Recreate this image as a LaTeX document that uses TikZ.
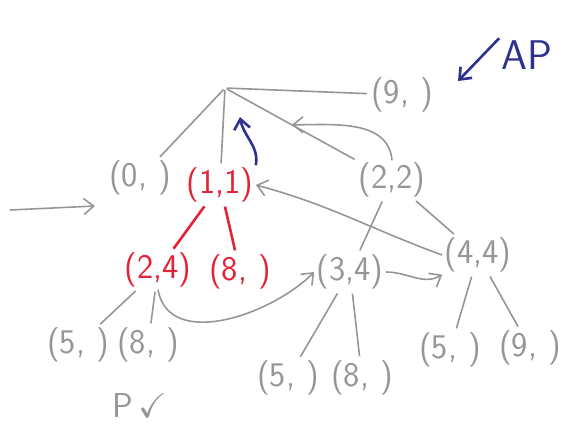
\documentclass[tikz,border=0pt]{standalone}
\usepackage{amssymb}
\usepackage{tikz}
\usetikzlibrary{calc,positioning,arrows.meta}
\definecolor{Pencil}{RGB}{150,150,150}
\definecolor{Marker}{RGB}{225,35,55}
\definecolor{Ink}{RGB}{45,50,140}
\tikzset{
 bt edge/.style={Pencil,line width=.8pt,shorten <=1pt,shorten >=1pt},
 bt path/.style={Marker,line width=1.3pt,shorten <=1pt,shorten >=1pt},
 bt move/.style={Pencil,line width=.8pt,-{Straight Barb[length=5pt,width=8pt]}},
 bt mark/.style={Ink,line width=1.3pt,-{Straight Barb[length=5pt,width=8pt]}},
 bt state/.style={font=\LARGE\sffamily,text=Pencil,inner sep=1pt},
 bt chosen/.style={font=\LARGE\sffamily,text=Marker,inner sep=1pt},
 bt note/.style={font=\huge\sffamily,inner sep=1pt}
}
\begin{document}
\begin{tikzpicture}[x=.5pt,y=.5pt]
 \useasboundingbox (0,0) rectangle (568,436);
 % states
 \coordinate (root) at (225,348);
 \coordinate (entry) at (10,226);
 \coordinate (entryend) at (95,230);
 \node[bt state]  (s9)  at (402,341) {(9,\ )};
 \node[bt state]  (s0)  at (140,258) {(0,\ )};
 \node[bt chosen] (s11) at (220,251) {(1,1)};
 \node[bt state]  (s22) at (392,256) {(2,2)};
 \node[bt chosen] (s24) at (158,166) {(2,4)};
 \node[bt chosen] (s8)  at (240,164) {(8,\ )};
 \node[bt state]  (s34) at (350,164) {(3,4)};
 \node[bt state]  (s44) at (478,181) {(4,4)};
 \foreach \n/\x/\y/\t in {s5a/78/91/5,s8a/148/91/8,s5b/288/58/5,
                          s8b/362/58/8,s5c/450/86/5,s9c/530/88/9}{
   \node[bt state] (\n) at (\x,\y) {(\t,\ )};
 }
 \node[bt state] (pv) at (140,31) {P\,$\checkmark$};
 \node[bt note,text=Ink] (ap) at (527,381) {AP};
 \coordinate (aptip) at (458,355);
 % tree edges
 \foreach \s in {s0,s11,s9,s22}{\draw[bt edge] (root)--(\s);}
 \foreach \p/\c in {s22/s34,s22/s44,s24/s5a,s24/s8a,
                    s34/s5b,s34/s8b,s44/s5c,s44/s9c}{
   \draw[bt edge] (\p)--(\c);
 }
 \foreach \c in {s24,s8}{\draw[bt path] (s11)--(\c);}
 % moves
 \coordinate (back) at ($(root)!.4!(s22)$);
 \coordinate (up) at ($(root)+(15,-29)$);
 \draw[bt move] (entry)--(entryend);
 \draw[bt move] (s22.north) to[out=95,in=0] (back);
 \draw[bt move] (s44.west) to[out=160,in=-15] (s11.east);
 \draw[bt move] (s34.east) to[out=0,in=210] (s44.south west);
 \draw[bt move] (s24.south) to[out=-80,in=225] (s34.west);
 \draw[bt mark] (s11.north east) to[out=80,in=-80] (up);
 \draw[bt mark] (ap.north west)--(aptip);
\end{tikzpicture}
\end{document}
